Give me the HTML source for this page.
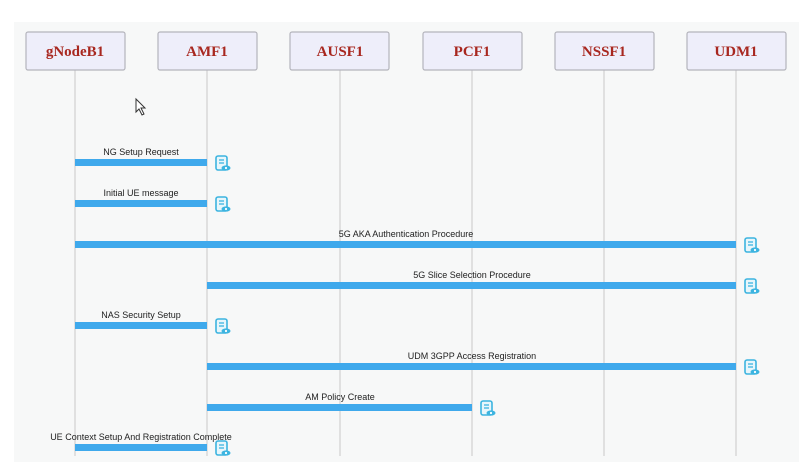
<!DOCTYPE html>
<html><head><meta charset="utf-8"><style>
html,body{margin:0;padding:0;background:#fff;}
svg{display:block;}
</style></head><body>
<svg width="799" height="471" xmlns="http://www.w3.org/2000/svg">
<defs>
<g id="ic">
<rect x="0" y="0" width="11" height="14" rx="2" fill="#e8f6fb" stroke="#3cb4e0" stroke-width="1.6"/>
<line x1="3" y1="4" x2="8" y2="4" stroke="#3cb4e0" stroke-width="1.3"/>
<line x1="3" y1="7" x2="8" y2="7" stroke="#3cb4e0" stroke-width="1.3"/>
<ellipse cx="10" cy="12" rx="4.5" ry="2.6" fill="#3cb4e0"/>
<circle cx="10" cy="12" r="1.1" fill="#fff"/>
</g>
</defs>
<rect x="0" y="0" width="799" height="471" fill="#fff"/>
<rect x="14" y="22" width="785" height="440" fill="#f7f8f8"/>
<g stroke="#d8d8d8" stroke-width="1.5">
<line x1="75" y1="70" x2="75" y2="456"/>
<line x1="207" y1="70" x2="207" y2="456"/>
<line x1="340" y1="70" x2="340" y2="456"/>
<line x1="472" y1="70" x2="472" y2="456"/>
<line x1="604" y1="70" x2="604" y2="456"/>
<line x1="736" y1="70" x2="736" y2="456"/>
</g>
<g fill="#eeeefa" stroke="#b4b4bc" stroke-width="1.2">
<rect x="26" y="32" width="99" height="38" rx="2"/>
<rect x="158" y="32" width="99" height="38" rx="2"/>
<rect x="290" y="32" width="99" height="38" rx="2"/>
<rect x="423" y="32" width="99" height="38" rx="2"/>
<rect x="555" y="32" width="99" height="38" rx="2"/>
<rect x="687" y="32" width="99" height="38" rx="2"/>
</g>
<g font-family="Liberation Serif, serif" font-weight="bold" font-size="15" fill="#a8271f" text-anchor="middle">
<text x="75" y="56">gNodeB1</text>
<text x="207" y="56">AMF1</text>
<text x="340" y="56">AUSF1</text>
<text x="472" y="56">PCF1</text>
<text x="604" y="56">NSSF1</text>
<text x="736" y="56">UDM1</text>
</g>
<path d="M136 99 L136 112 L139 109 L142 115 L144 114 L141 108 L145 108 Z" fill="#fff" stroke="#333" stroke-width="1"/>
<g fill="#3fa9ec">
<rect x="75" y="159" width="132" height="7"/>
<rect x="75" y="200" width="132" height="7"/>
<rect x="75" y="241" width="661" height="7"/>
<rect x="207" y="282" width="529" height="7"/>
<rect x="75" y="322" width="132" height="7"/>
<rect x="207" y="363" width="529" height="7"/>
<rect x="207" y="404" width="265" height="7"/>
<rect x="75" y="444" width="132" height="7"/>
</g>
<g font-family="Liberation Sans, sans-serif" font-size="9" fill="#222" text-anchor="middle">
<text x="141" y="155">NG Setup Request</text>
<text x="141" y="196">Initial UE message</text>
<text x="406" y="237">5G AKA Authentication Procedure</text>
<text x="472" y="278">5G Slice Selection Procedure</text>
<text x="141" y="318">NAS Security Setup</text>
<text x="472" y="359">UDM 3GPP Access Registration</text>
<text x="340" y="400">AM Policy Create</text>
<text x="141" y="440">UE Context Setup And Registration Complete</text>
</g>
<use href="#ic" x="216" y="156"/>
<use href="#ic" x="216" y="197"/>
<use href="#ic" x="745" y="238"/>
<use href="#ic" x="745" y="279"/>
<use href="#ic" x="216" y="319"/>
<use href="#ic" x="745" y="360"/>
<use href="#ic" x="481" y="401"/>
<use href="#ic" x="216" y="441"/>
</svg>
</body></html>
